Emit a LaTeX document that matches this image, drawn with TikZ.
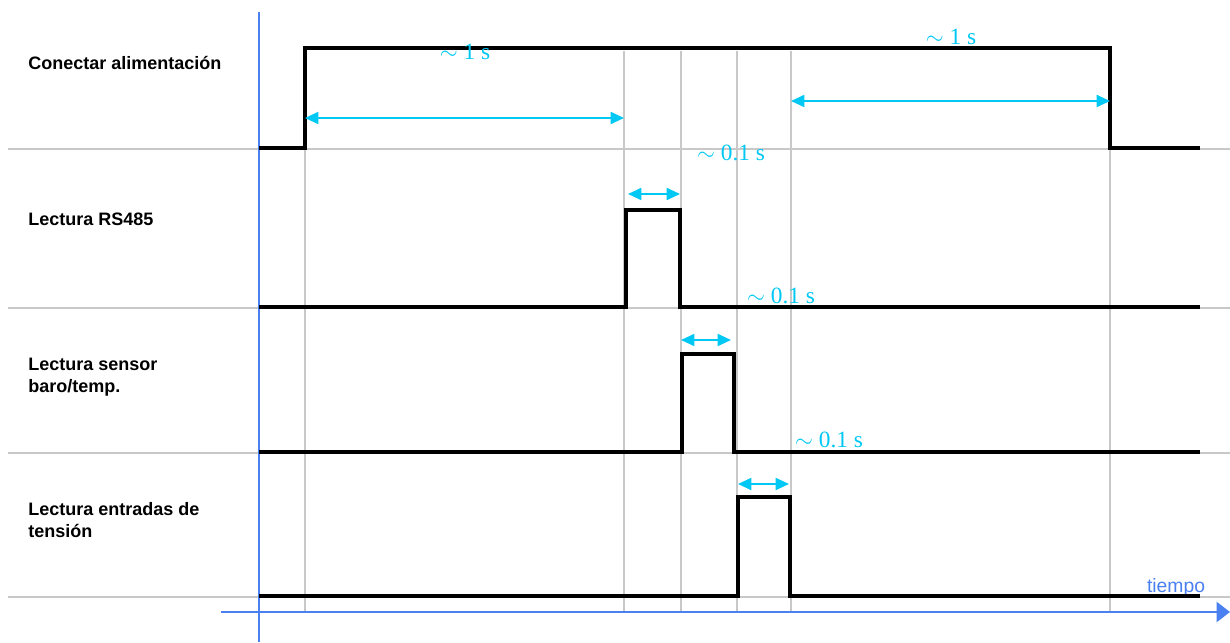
\documentclass[tikz,border=0pt]{standalone}
\usepackage{fontspec}
\setmainfont{Liberation Serif}
\setsansfont{Liberation Sans}
\usetikzlibrary{arrows.meta}
\definecolor{gridgray}{HTML}{C8C8C8}
\definecolor{axisblue}{HTML}{4A80F0}
\definecolor{durcyan}{HTML}{00C8F5}
\tikzset{
  gridline/.style={draw=gridgray, line width=1.4pt},
  axisline/.style={draw=axisblue, line width=1.5pt},
  signal/.style={draw=black, line width=2.6pt, line join=miter},
  durarrow/.style={draw=durcyan, line width=1.4pt, {Triangle[length=10pt,width=9pt]}-{Triangle[length=10pt,width=9pt]}},
  durlabel/.style={text=durcyan, font=\fontsize{17.5}{20}\selectfont, inner sep=0pt},
  rowlabel/.style={font=\sffamily\bfseries\fontsize{13.5}{16.5}\selectfont, align=left, anchor=west, inner sep=0pt},
}
\begin{document}
\begin{tikzpicture}[x=0.75pt, y=-0.75pt]
\useasboundingbox (0,0) rectangle (1230,642);
% horizontal grid lines
\foreach \yy/\nm in {149/ga,308/gb,453/gc,597/gd}{
  \coordinate (\nm L) at (8,\yy);
  \coordinate (\nm R) at (1230,\yy);
  \draw[gridline] (\nm L) -- (\nm R);
}
% vertical grid lines
\foreach \xx/\nm in {305/va,624/vb,681/vc,737/vd,791/ve,1110/vf}{
  \coordinate (\nm T) at (\xx,51);
  \coordinate (\nm B) at (\xx,612);
  \draw[gridline] (\nm T) -- (\nm B);
}
% axes
\coordinate (yaT) at (259,12);
\coordinate (yaB) at (259,642);
\draw[axisline] (yaT) -- (yaB);
\coordinate (xaL) at (221,612);
\coordinate (xaR) at (1230,612);
\draw[axisline, -{Triangle[length=10pt,width=15pt]}] (xaL) -- (xaR);
\node[text=axisblue, font=\sffamily\fontsize{14.5}{17}\selectfont, inner sep=0pt] (tiempo) at (1176,587) {tiempo};
% signals
\coordinate (s1a) at (259,148);
\coordinate (s1b) at (305,48);
\coordinate (s1c) at (1110,148);
\coordinate (s1d) at (1200,148);
\draw[signal] (s1a) -| (s1b) -| (s1c) -- (s1d);
\coordinate (s2a) at (259,307);
\coordinate (s2b) at (626,210);
\coordinate (s2c) at (680,307);
\coordinate (s2d) at (1200,307);
\draw[signal] (s2a) -| (s2b) -| (s2c) -- (s2d);
\coordinate (s3a) at (259,452);
\coordinate (s3b) at (682,354);
\coordinate (s3c) at (734,452);
\coordinate (s3d) at (1200,452);
\draw[signal] (s3a) -| (s3b) -| (s3c) -- (s3d);
\coordinate (s4a) at (259,596);
\coordinate (s4b) at (738,497);
\coordinate (s4c) at (790,596);
\coordinate (s4d) at (1200,596);
\draw[signal] (s4a) -| (s4b) -| (s4c) -- (s4d);
% duration arrows
\coordinate (d1a) at (305,118); \coordinate (d1b) at (624,118);
\draw[durarrow] (d1a) -- (d1b);
\coordinate (d2a) at (791,101); \coordinate (d2b) at (1110,101);
\draw[durarrow] (d2a) -- (d2b);
\coordinate (d3a) at (628,194); \coordinate (d3b) at (680,194);
\draw[durarrow] (d3a) -- (d3b);
\coordinate (d4a) at (681,340); \coordinate (d4b) at (731,340);
\draw[durarrow] (d4a) -- (d4b);
\coordinate (d5a) at (738,484); \coordinate (d5b) at (789,484);
\draw[durarrow] (d5a) -- (d5b);
% duration labels
\node[durlabel] (l1) at (465,52) {$\sim$ 1 s};
\node[durlabel] (l2) at (951,37) {$\sim$ 1 s};
\node[durlabel] (l3) at (731,153) {$\sim$ 0.1 s};
\node[durlabel] (l4) at (781,296) {$\sim$ 0.1 s};
\node[durlabel] (l5) at (829,440) {$\sim$ 0.1 s};
% row labels
\node[rowlabel] (r1) at (28,63) {Conectar alimentación};
\node[rowlabel] (r2) at (28,219) {Lectura RS485};
\node[rowlabel] (r3) at (28,377) {Lectura sensor\\baro/temp.};
\node[rowlabel] (r4) at (28,520) {Lectura entradas de\\tensión};
\end{tikzpicture}
\end{document}
